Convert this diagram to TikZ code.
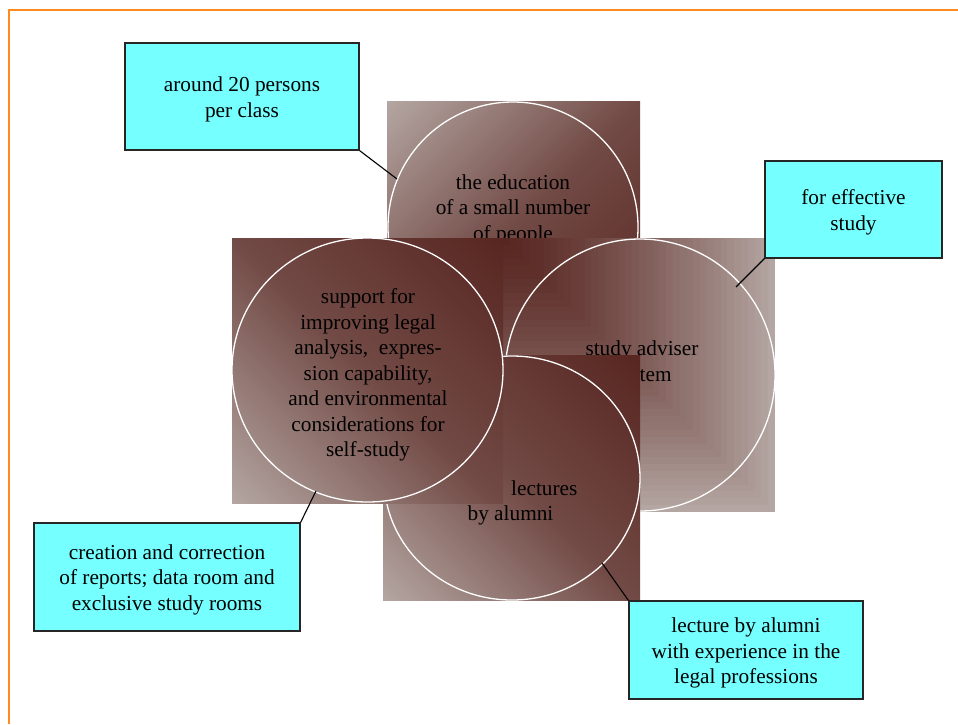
\documentclass[tikz,border=0pt]{standalone}
\usepackage{fontspec}
\setmainfont{Liberation Serif}
\usetikzlibrary{shapes.geometric}
\definecolor{lite}{RGB}{180,166,162}
\definecolor{dark}{RGB}{88,38,33}
\colorlet{midc}{lite!28!dark}
\definecolor{callcyan}{RGB}{117,255,255}
\definecolor{frameorange}{RGB}{255,138,30}
\pgfdeclarehorizontalshading{diagsh}{100bp}{color(0bp)=(lite); color(14.6bp)=(lite); color(50bp)=(midc); color(85.4bp)=(dark); color(100bp)=(dark)}
\begin{document}
\begin{tikzpicture}[x=1pt,y=-1pt,
  txt/.style={font=\fontsize{21.3}{25.5}\selectfont, align=center, inner sep=0pt, text=black},
  ring/.style={ellipse, draw=white, line width=1.3pt, inner sep=0pt},
  callout/.style={txt, draw=black!85, line width=1.2pt, fill=callcyan},
  leader/.style={draw=black, line width=1.1pt},
  diag/.style={shading=diagsh}]
\useasboundingbox (0,0) rectangle (958,724);
% frame
\draw[frameorange, line width=2pt] (958,10) -- (9,10) -- (9,724);
% top square
\shade[diag, shading angle=-45] (387,101) rectangle (640,354);
\node[ring, minimum width=250pt, minimum height=250pt] (ctop) at (513,227) {};
\node[txt] (ttop) at (513,209.5) {the education\\of a small number\\of people};
% right square (rectangular gradient, banded)
\foreach \i in {40,39,...,1}{
  \pgfmathtruncatemacro\pp{100*(\i/40)^1.3}
  \fill[lite!\pp!dark] (503,238) rectangle ({503+272*\i/40},{238+274*\i/40});
}
\node[ring, minimum width=270pt, minimum height=272pt] (cright) at (640,375) {};
\node[txt] (tright) at (642,363.5) {study adviser\\system};
% bottom square
\shade[diag, shading angle=45] (383,355) rectangle (640,600);
\node[ring, minimum width=256pt, minimum height=244pt] (cbot) at (512,478) {};
\node[txt, anchor=base west] (tlect) at (511,495) {lectures};
\node[txt, anchor=base] (talum) at (510.5,520) {by alumni};
% left square
\shade[diag, shading angle=45] (232,238) rectangle (503,503);
\node[ring, minimum width=271pt, minimum height=264pt] (cleft) at (367.5,370) {};
\node[txt] (tleft) at (368,375) {support for\\improving legal\\analysis,~~expres-\\sion capability,\\and environmental\\considerations for\\self-study};
% callouts
\node[callout, text height=46pt, minimum width=234pt, minimum height=107pt] (b1) at (242,96.5) {around 20 persons\\per class};
\node[callout, text height=46pt, minimum width=177pt, minimum height=97pt] (b2) at (853.5,209.5) {for effective\\study};
\node[callout, text height=71.5pt, minimum width=266pt, minimum height=108pt] (b3) at (167,577) {creation and correction\\of reports; data room and\\exclusive study rooms};
\node[callout, text height=72.5pt, minimum width=234pt, minimum height=98pt] (b4) at (746,650) {lecture by alumni\\with experience in the\\legal professions};
\coordinate (e1) at (397,179);
\coordinate (e2) at (736,287);
\coordinate (e3) at (316,491);
\coordinate (e4) at (602,563);
\draw[leader] (b1.south east) -- (e1);
\draw[leader] (b2.south west) -- (e2);
\draw[leader] (b3.north east) -- (e3);
\draw[leader] (b4.north west) -- (e4);
\end{tikzpicture}
\end{document}
